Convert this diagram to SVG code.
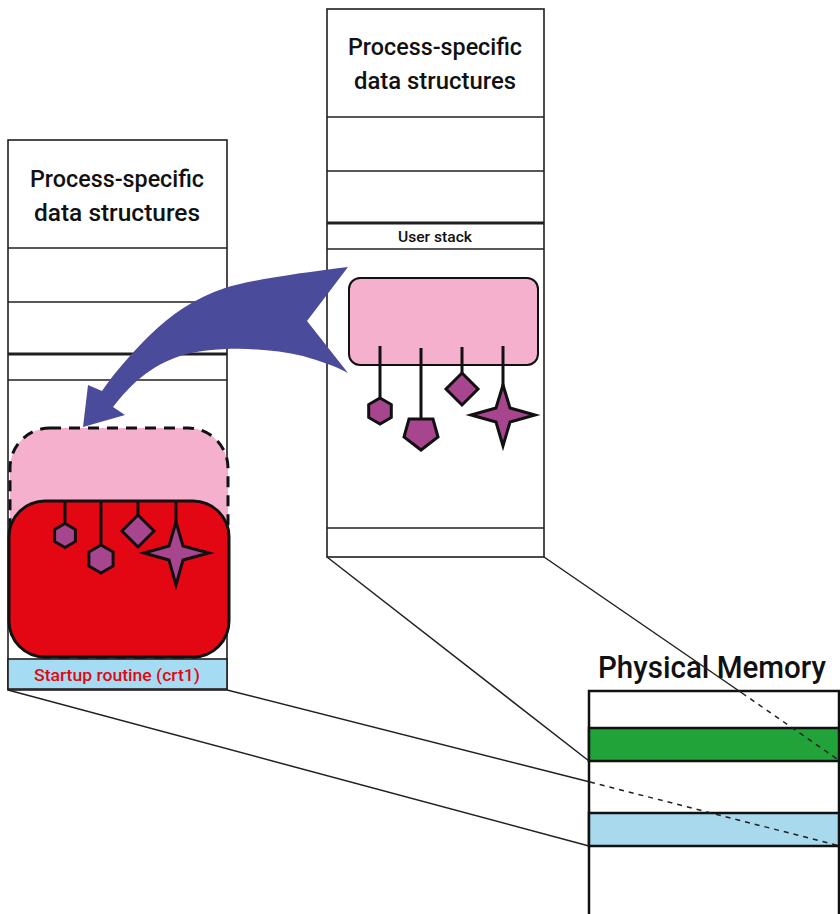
<svg xmlns="http://www.w3.org/2000/svg" width="840" height="914" viewBox="0 0 840 914">
<style>
.col{fill:#fff;stroke:#231f20;stroke-width:1.6}
.div{stroke:#231f20;stroke-width:1.6}
.thick{stroke:#231f20;stroke-width:3}
.txt{font-family:Roboto,"Liberation Sans",Arial,sans-serif;font-weight:500;fill:#111}
.hdr{font-size:24px;text-anchor:middle}
.shape{fill:#a7468f;stroke:#111;stroke-width:3;stroke-linejoin:miter}
.stem{stroke:#111;stroke-width:3}
.conn{stroke:#231f20;stroke-width:1.5;fill:none}
.dash{stroke:#231f20;stroke-width:1.5;fill:none;stroke-dasharray:5 5}
</style>
<rect width="840" height="914" fill="#fff"/>

<g id="left-process">
  <rect class="col" x="8" y="140" width="219" height="550"/>
  <line class="div" x1="8" y1="248" x2="227" y2="248"/>
  <line class="div" x1="8" y1="302" x2="227" y2="302"/>
  <line class="thick" x1="8" y1="354" x2="227" y2="354"/>
  <line class="div" x1="8" y1="380" x2="227" y2="380"/>
  <text class="txt hdr" x="117" y="187" textLength="174" lengthAdjust="spacingAndGlyphs">Process-specific</text>
  <text class="txt hdr" x="117" y="221" textLength="166" lengthAdjust="spacingAndGlyphs">data structures</text>
</g>

<g id="left-pink-image">
  <rect x="10" y="428" width="218" height="230" rx="40" fill="#f4b0cc" stroke="#111" stroke-width="3" stroke-dasharray="11 8"/>
</g>

<g id="left-red-image">
  <rect x="9" y="501" width="220" height="156" rx="36" fill="#e30613" stroke="#111" stroke-width="3"/>
  <line class="stem" x1="65" y1="502" x2="65" y2="524"/>
  <line class="stem" x1="101" y1="502" x2="101" y2="545"/>
  <line class="stem" x1="138" y1="502" x2="138" y2="515"/>
  <line class="stem" x1="176" y1="502" x2="176" y2="524"/>
  <polygon class="shape" points="65,523.5 75.4,529.5 75.4,541.5 65,547.5 54.6,541.5 54.6,529.5"/>
  <polygon class="shape" points="101,545 113.1,552 113.1,566 101,573 88.9,566 88.9,552"/>
  <polygon class="shape" points="138,515 154,531 138,547 122,531"/>
  <polygon class="shape" points="176,522 183,546 209,553 183,560 176,585 169,560 144,553 169,546"/>
</g>

<g id="startup-routine">
  <rect x="8" y="659" width="219" height="30" fill="#a6dcf3" stroke="#231f20" stroke-width="1.6"/>
  <text class="txt" x="117" y="681" font-size="16" style="fill:#e30613" text-anchor="middle" textLength="166" lengthAdjust="spacingAndGlyphs">Startup routine (crt1)</text>
</g>

<g id="right-process">
  <rect class="col" x="327" y="9" width="217" height="548"/>
  <line class="div" x1="327" y1="117" x2="544" y2="117"/>
  <line class="div" x1="327" y1="171" x2="544" y2="171"/>
  <line class="thick" x1="327" y1="223" x2="544" y2="223"/>
  <line class="div" x1="327" y1="249" x2="544" y2="249"/>
  <line class="div" x1="327" y1="528" x2="544" y2="528"/>
  <text class="txt hdr" x="435" y="55" textLength="174" lengthAdjust="spacingAndGlyphs">Process-specific</text>
  <text class="txt hdr" x="435" y="89" textLength="162" lengthAdjust="spacingAndGlyphs">data structures</text>
  <text class="txt" x="435" y="242" font-size="14" text-anchor="middle" textLength="74" lengthAdjust="spacingAndGlyphs">User stack</text>
</g>

<g id="right-image">
  <rect x="349" y="278" width="189" height="87" rx="11" fill="#f4b0cc" stroke="#111" stroke-width="2"/>
  <line class="stem" x1="380" y1="346" x2="380" y2="399"/>
  <line class="stem" x1="421" y1="348" x2="421" y2="419"/>
  <line class="stem" x1="462" y1="347" x2="462" y2="374"/>
  <line class="stem" x1="503" y1="346" x2="503" y2="386"/>
  <polygon class="shape" points="380,398 391.3,404.5 391.3,417.5 380,424 368.7,417.5 368.7,404.5"/>
  <polygon class="shape" points="409,419 433,419 438,437 421,450 404,437"/>
  <polygon class="shape" points="462,373 478,389 462,405 446,389"/>
  <polygon class="shape" points="503,385 510,408 535,415 510,422 503,446 496,422 471,415 496,408"/>
</g>

<g id="physical-memory">
  <rect x="589" y="691" width="250" height="230" fill="#fff" stroke="#111" stroke-width="2.5"/>
  <rect x="589" y="728" width="250" height="33" fill="#21a33a" stroke="#111" stroke-width="2.5"/>
  <rect x="589" y="813" width="250" height="33" fill="#a8d9ec" stroke="#111" stroke-width="2.5"/>
  <text class="txt" x="598" y="678" font-size="32" textLength="228" lengthAdjust="spacingAndGlyphs">Physical Memory</text>
</g>

<g id="connectors">
  <line class="conn" x1="327" y1="557" x2="589" y2="761"/>
  <line class="conn" x1="544" y1="557" x2="742" y2="693"/>
  <line class="dash" x1="742" y1="693" x2="840" y2="761"/>
  <line class="conn" x1="8" y1="690" x2="589" y2="846"/>
  <line class="conn" x1="227" y1="690" x2="590" y2="782"/>
  <line class="dash" x1="590" y1="782" x2="840" y2="846"/>
  <path id="load-arrow" fill="#4b4b9b" d="M348,267 C300,273 250,280 225,288 C195,298 170,315 150,335 C130,355 115,372 102,391 L88,385 L83,427 L125,415 L113,407 C130,385 150,366 180,356 C210,347 260,346 303,356 C320,361 335,366 348,373 L307,321 Z"/>
</g>
</svg>
